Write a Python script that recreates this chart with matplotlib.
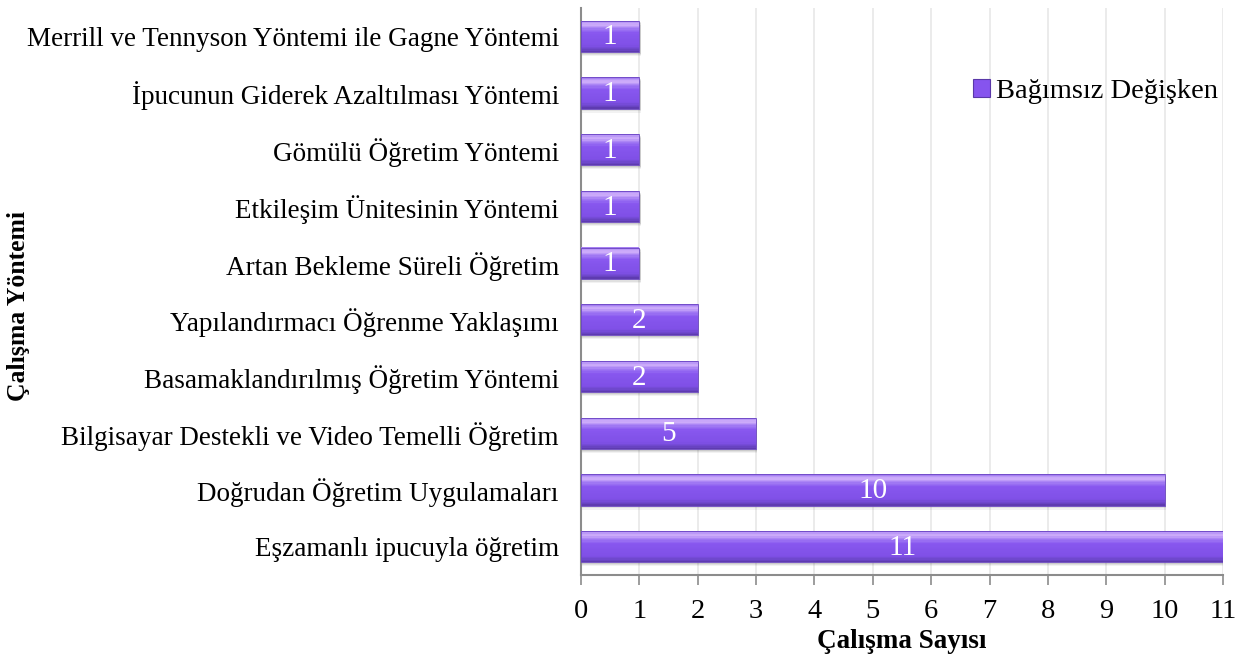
import matplotlib
matplotlib.use("Agg")
import matplotlib.pyplot as plt
import numpy as np
from matplotlib.colors import LinearSegmentedColormap

# data, bottom to top as drawn
categories = [
    "Eşzamanlı ipucuyla öğretim",
    "Doğrudan Öğretim Uygulamaları",
    "Bilgisayar Destekli ve Video Temelli Öğretim",
    "Basamaklandırılmış Öğretim Yöntemi",
    "Yapılandırmacı Öğrenme Yaklaşımı",
    "Artan Bekleme Süreli Öğretim",
    "Etkileşim Ünitesinin Yöntemi",
    "Gömülü Öğretim Yöntemi",
    "İpucunun Giderek Azaltılması Yöntemi",
    "Merrill ve Tennyson Yöntemi ile Gagne Yöntemi",
]
values = [11, 10, 3, 2, 2, 1, 1, 1, 1, 1]
value_labels = ["11", "10", "5", "2", "2", "1", "1", "1", "1", "1"]
series_name = "Bağımsız Değişken"
xticks = list(range(0, 12))

serif = "Liberation Serif"
fs = 19.5

fig = plt.figure(figsize=(12.45, 6.58), dpi=100)
ax = fig.add_axes([0.4667, 0.126, 0.5156, 0.862])

y = np.arange(len(categories))
h = 0.55
main = "#8654ee"

# vertical colour profile of the bevelled bar (0 = bottom, 1 = top)
grad = LinearSegmentedColormap.from_list("bevel", [
    (0.0, "#5a38a8"), (0.08, "#6c46c8"), (0.2, "#7f50e6"),
    (0.6, "#8857ef"), (0.75, "#a37cf4"), (0.87, "#d2b2fb"),
    (0.95, "#b896f6"), (1.0, "#9a72ee")])

# soft shadow
for k, a in [(0.07, 0.05), (0.05, 0.07), (0.03, 0.09)]:
    ax.barh(y - k, values, height=h, left=0.02, color="#000000", alpha=a, zorder=2, linewidth=0)

nsl = 24
for i in range(nsl):
    f0 = i / nsl
    ax.barh(y - h / 2 + h * f0, values, height=h / nsl * 1.05, align="edge",
            color=grad((i + 0.5) / nsl), linewidth=0, zorder=3)
bars = ax.barh(y, values, height=h, color="none", edgecolor="#6a45c2", linewidth=0.6,
               zorder=4, label=series_name)

for yi, v, lab in zip(y, values, value_labels):
    ax.text(v / 2, yi - 0.02, lab, ha="center", va="center", color="white",
            fontsize=fs + 1.5, family=serif, zorder=5)

ax.set_xlim(0, 11)
ax.set_ylim(-0.5, len(categories) - 0.5)
ax.set_xticks(xticks)
ax.set_xticklabels([str(t) for t in xticks], family=serif, fontsize=fs + 1)
ax.set_yticks(y)
ax.set_yticklabels(categories, family=serif, fontsize=fs)
ax.tick_params(axis="y", length=0, pad=16)
ax.tick_params(axis="x", length=7, color="#8c8c8c", width=1.2, pad=10)

ax.grid(axis="x", color="#e8e8e8", linewidth=1.2, zorder=0)
ax.set_axisbelow(True)
for s in ["top", "right"]:
    ax.spines[s].set_visible(False)
for s in ["left", "bottom"]:
    ax.spines[s].set_color("#8c8c8c")
    ax.spines[s].set_linewidth(1.5)

ax.set_xlabel("Çalışma Sayısı", family=serif, fontsize=fs, fontweight="bold", labelpad=4)
fig.text(0.015, 0.535, "Çalışma Yöntemi", rotation=90, ha="center", va="center",
         family=serif, fontsize=fs - 1, fontweight="bold")

handle = plt.Rectangle((0, 0), 1, 1, facecolor=main, edgecolor="#5a38a8", linewidth=0.8)
ax.legend(handles=[handle], labels=[series_name], loc="upper right",
          bbox_to_anchor=(1.01, 0.895), frameon=False, handlelength=0.6,
          handleheight=0.6, handletextpad=0.2, borderaxespad=0,
          prop={"family": serif, "size": fs + 1})

fig.savefig("out.png", dpi=100)
